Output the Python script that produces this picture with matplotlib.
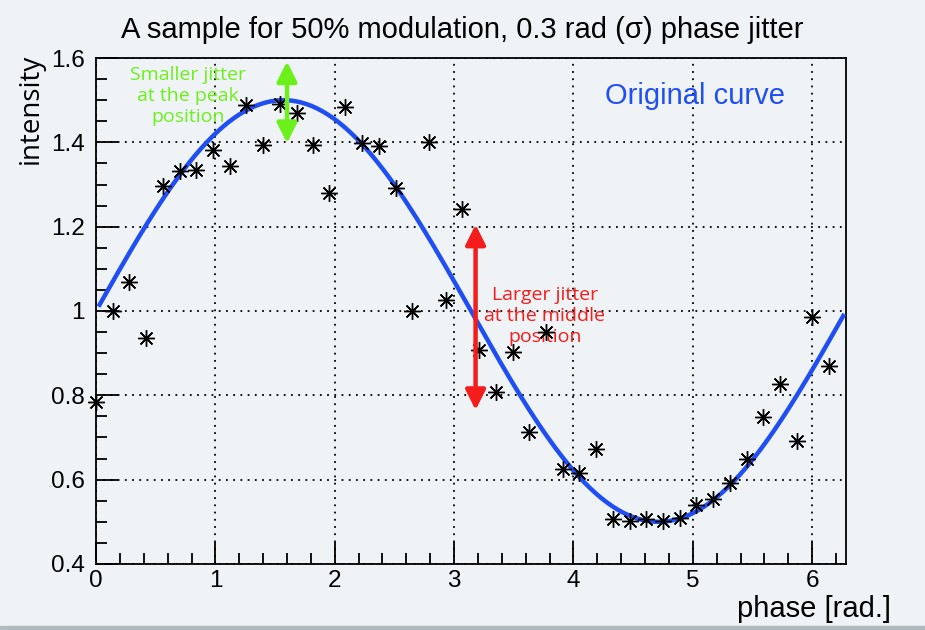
import matplotlib
matplotlib.use("Agg")
import matplotlib.pyplot as plt
import matplotlib.ticker as mticker
import numpy as np
from matplotlib.patches import FancyArrowPatch, Rectangle

PHASE = [0.00, 0.14, 0.28, 0.42, 0.56, 0.70, 0.84, 0.98, 1.12, 1.26,
         1.40, 1.54, 1.68, 1.82, 1.95, 2.09, 2.23, 2.37, 2.51, 2.65,
         2.79, 2.93, 3.07, 3.21, 3.35, 3.49, 3.63, 3.77, 3.91, 4.05,
         4.19, 4.33, 4.47, 4.61, 4.75, 4.89, 5.03, 5.17, 5.31, 5.45,
         5.59, 5.73, 5.87, 6.00, 6.14]
INTENSITY = [0.785, 1.000, 1.068, 0.937, 1.296, 1.332, 1.334, 1.382, 1.345, 1.488,
             1.394, 1.492, 1.469, 1.393, 1.280, 1.483, 1.398, 1.392, 1.292, 1.000,
             1.401, 1.027, 1.243, 0.907, 0.808, 0.903, 0.713, 0.951, 0.626, 0.616,
             0.672, 0.506, 0.501, 0.507, 0.502, 0.510, 0.540, 0.553, 0.591, 0.649,
             0.748, 0.826, 0.691, 0.986, 0.869]

# Original curve: 1 + m*sin(phase), 50% modulation
MODULATION = 0.5
OFFSET = 1.0
CURVE_RANGE = (0.03, 6.26)

BG = "#eff3f5"
BLUE = "#1f4ef2"
GREEN = "#6cf01c"
RED = "#f51c1c"
HELV = ["Liberation Sans", "DejaVu Sans"]
SANS = ["Open Sans", "DejaVu Sans"]

fig = plt.figure(figsize=(9.25, 6.3), dpi=100, facecolor=BG)
ax = fig.add_axes([0.1038, 0.1048, 0.8108, 0.8031], facecolor=BG)

phi = np.linspace(CURVE_RANGE[0], CURVE_RANGE[1], 400)
ax.plot(phi, OFFSET + MODULATION * np.sin(phi), color=BLUE, lw=3.2, zorder=3)

ax.plot(PHASE, INTENSITY, ls="none", marker=(8, 2, 0), ms=12, mew=1.0,
        color="black", zorder=4, clip_on=False)
ax.plot(PHASE, INTENSITY, ls="none", marker="o", ms=3.0, color="black",
        zorder=4, clip_on=False)

ax.set_xlim(0, 2 * np.pi)
ax.set_ylim(0.4, 1.6)
ax.xaxis.set_major_locator(mticker.MultipleLocator(1))
ax.xaxis.set_minor_locator(mticker.MultipleLocator(0.2))
ax.yaxis.set_major_locator(mticker.MultipleLocator(0.2))
ax.yaxis.set_minor_locator(mticker.MultipleLocator(0.05))
ax.yaxis.set_major_formatter(mticker.FuncFormatter(lambda v, _: f"{v:g}"))

ax.tick_params(which="both", direction="in", top=False, right=False,
               width=1.3, color="black")
ax.tick_params(which="major", length=16)
ax.tick_params(which="minor", length=8)
ax.tick_params(axis="y", which="major", pad=8)
ax.tick_params(axis="x", which="major", pad=4)
for lab in ax.get_xticklabels() + ax.get_yticklabels():
    lab.set_family(HELV)
    lab.set_fontsize(17.5)

for s in ax.spines.values():
    s.set_linewidth(1.3)
ax.grid(which="major", ls=(0, (1, 3)), lw=1.3, color="black")
ax.set_axisbelow(True)

fig.text(0.5, 0.952, "A sample for 50% modulation, 0.3 rad (\u03c3) phase jitter",
         ha="center", va="center", fontsize=21, family=HELV)
fig.text(0.033, 0.915, "intensity", rotation=90, ha="center", va="top",
         fontsize=20, family=SANS)
fig.text(0.963, 0.034, "phase [rad.]", ha="right", va="center",
         fontsize=21, family=HELV)

ax.text(5.02, 1.51, "Original curve", color=BLUE, fontsize=21,
        family=HELV, ha="center", va="center")

# jitter arrows
ax.add_patch(FancyArrowPatch((1.60, 1.398), (1.60, 1.592), arrowstyle="<|-|>",
                             mutation_scale=30, lw=3.2, color=GREEN,
                             shrinkA=0, shrinkB=0, zorder=5))
ax.text(0.77, 1.51, "Smaller jitter\nat the peak\nposition", color=GREEN,
        fontsize=14, family=SANS, ha="center", va="center", linespacing=1.22)

ax.add_patch(FancyArrowPatch((3.18, 0.765), (3.18, 1.205), arrowstyle="<|-|>",
                             mutation_scale=30, lw=3.2, color=RED,
                             shrinkA=0, shrinkB=0, zorder=5))
ax.text(3.76, 0.988, "Larger jitter\nat the middle\nposition", color=RED,
        fontsize=14, family=SANS, ha="center", va="center", linespacing=1.22)

fig.patches.append(Rectangle((0, 0), 1, 0.007, transform=fig.transFigure,
                             color="#aebcc2", zorder=0))

fig.savefig("out.png", dpi=100, facecolor=BG)
